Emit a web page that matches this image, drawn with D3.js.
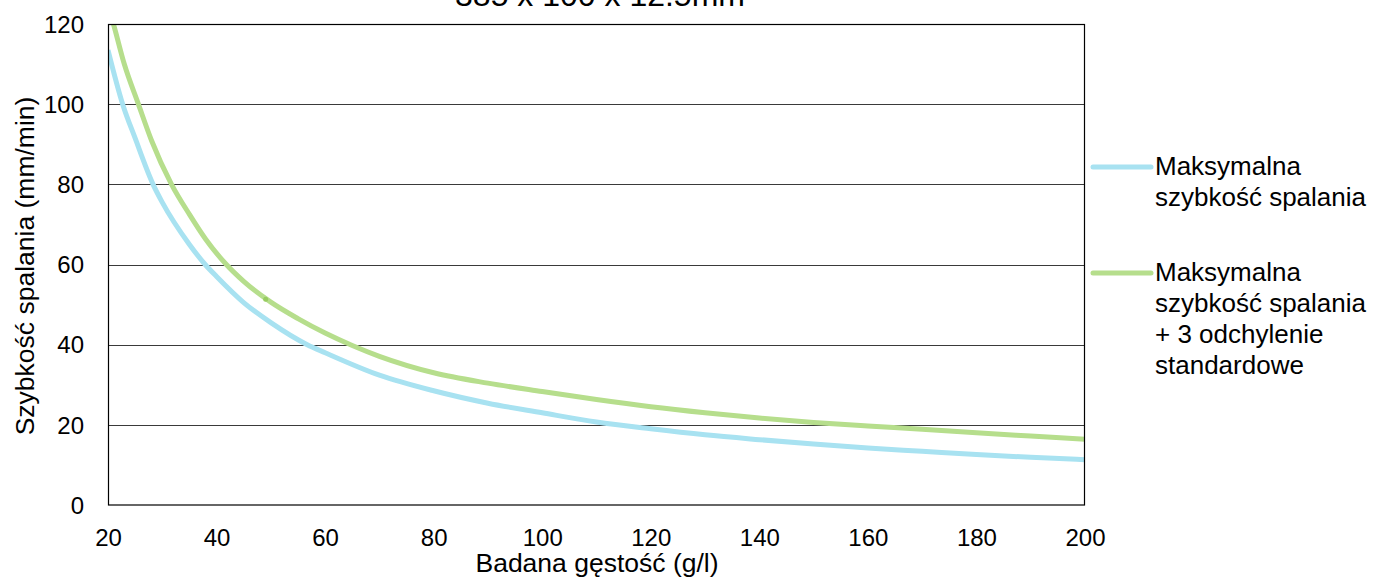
<!DOCTYPE html>
<html>
<head>
<meta charset="utf-8">
<script src="https://cdn.jsdelivr.net/npm/d3@7"></script>
<style>
  html, body { margin: 0; padding: 0; background: #fff; }
  svg { display: block; font-family: "Liberation Sans", Arial, sans-serif; }
</style>
</head>
<body>
<svg id="chart" width="1373" height="581"></svg>
<script>
// ---- data ----
const titleText = "385 x 100 x 12.5mm";
const xLabel = "Badana gęstość (g/l)";
const yLabel = "Szybkość spalania (mm/min)";
const xTicks = [20, 40, 60, 80, 100, 120, 140, 160, 180, 200];
const yTicks = [0, 20, 40, 60, 80, 100, 120];
const seriesNames = [
  ["Maksymalna", "szybkość spalania"],
  ["Maksymalna", "szybkość spalania", "+ 3 odchylenie", "standardowe"]
];
const blueX = [20, 22.7, 25, 28.3, 30, 35, 37.9, 40, 45, 50, 56.7, 60, 70, 80, 90, 100, 110, 120, 130, 140, 150, 160, 170, 180, 190, 200];
const blueY = [113.5, 100, 91.5, 80, 75.5, 65, 60, 57, 50.5, 45.5, 40, 38, 32.4, 28.5, 25.4, 23, 20.7, 19, 17.5, 16.3, 15.2, 14.2, 13.4, 12.6, 11.9, 11.3];
const greenX = [20, 21, 23, 25.6, 28, 31.7, 35, 38, 41.8, 45, 50, 55, 60, 65, 70, 80, 90, 100, 110, 120, 130, 140, 150, 160, 170, 180, 190, 200];
const greenY = [124.5, 120, 110, 100, 91, 80, 72.5, 66.3, 60, 55.8, 50.6, 46.5, 42.9, 39.8, 37.1, 33.0, 30.4, 28.3, 26.3, 24.5, 23.0, 21.7, 20.6, 19.7, 18.9, 18.0, 17.2, 16.4];
const markerX = [49.05];
const markerY = [51.3];

const colors = ["#a8e2f1", "#b6de8c"];

const svg = d3.select("#chart");
const x = d3.scaleLinear().domain([20, 200]).range([108, 1085]);
const y = d3.scaleLinear().domain([0, 120]).range([505, 24]);

// clip
svg.append("defs").append("clipPath").attr("id", "clip")
  .append("rect").attr("x", 108).attr("y", 24).attr("width", 977).attr("height", 481);

// gridlines
svg.append("g").selectAll("line").data(yTicks.filter(d => d > 0 && d < 120)).join("line")
  .attr("x1", 108).attr("x2", 1085)
  .attr("y1", d => Math.round(y(d)) + 0.5).attr("y2", d => Math.round(y(d)) + 0.5)
  .attr("stroke", "#3a3a3a").attr("stroke-width", 1);

// y ticks via axis
const yAxis = svg.append("g").attr("transform", "translate(84,0)")
  .call(d3.axisLeft(y).tickValues(yTicks).tickSize(0).tickPadding(0));
yAxis.select(".domain").remove();
yAxis.selectAll("text").attr("font-size", 24).attr("fill", "#000")
  .attr("font-family", "Liberation Sans, Arial, sans-serif").attr("dy", "0.34em");

const xAxis = svg.append("g").attr("transform", "translate(0,505)")
  .call(d3.axisBottom(x).tickValues(xTicks).tickSize(0).tickPadding(0));
xAxis.select(".domain").remove();
xAxis.selectAll("text").attr("font-size", 24).attr("fill", "#000")
  .attr("font-family", "Liberation Sans, Arial, sans-serif").attr("dy", null).attr("y", 41);

// lines
const line = d3.line().x(d => x(d[0])).y(d => y(d[1])).curve(d3.curveMonotoneX);
const blue = blueX.map((v, i) => [v, blueY[i]]);
const green = greenX.map((v, i) => [v, greenY[i]]);
const lg = svg.append("g").attr("clip-path", "url(#clip)");
lg.append("path").datum(blue).attr("d", line).attr("fill", "none")
  .attr("stroke", colors[0]).attr("stroke-width", 5);
lg.append("path").datum(green).attr("d", line).attr("fill", "none")
  .attr("stroke", colors[1]).attr("stroke-width", 5);
lg.selectAll("circle").data(markerX.map((v, i) => [v, markerY[i]])).join("circle")
  .attr("cx", d => x(d[0])).attr("cy", d => y(d[1])).attr("r", 2.5).attr("fill", "#98cc62");

// plot border
svg.append("rect").attr("x", 108.5).attr("y", 24.5).attr("width", 976).attr("height", 480.5)
  .attr("fill", "none").attr("stroke", "#000").attr("stroke-width", 1.2);

// title (cut off at top)
svg.append("text").attr("x", 600).attr("y", 6).attr("text-anchor", "middle")
  .attr("font-size", 32).text(titleText);

// axis titles
svg.append("text").attr("x", 597).attr("y", 572).attr("text-anchor", "middle")
  .attr("font-size", 26.5).text(xLabel);
svg.append("text").attr("transform", "translate(34,266) rotate(-90)").attr("text-anchor", "middle")
  .attr("font-size", 26.5).text(yLabel);

// legend
const legendTops = [175, 281];
const lh = 31;
seriesNames.forEach((lines, i) => {
  const g = svg.append("g");
  g.append("line").attr("x1", 1093).attr("x2", 1151)
    .attr("y1", legendTops[i] - 8).attr("y2", legendTops[i] - 8)
    .attr("stroke", colors[i]).attr("stroke-width", 5).attr("stroke-linecap", "round");
  lines.forEach((t, j) => {
    g.append("text").attr("x", 1155).attr("y", legendTops[i] + j * lh)
      .attr("font-size", 26).text(t);
  });
});
</script>
</body>
</html>
